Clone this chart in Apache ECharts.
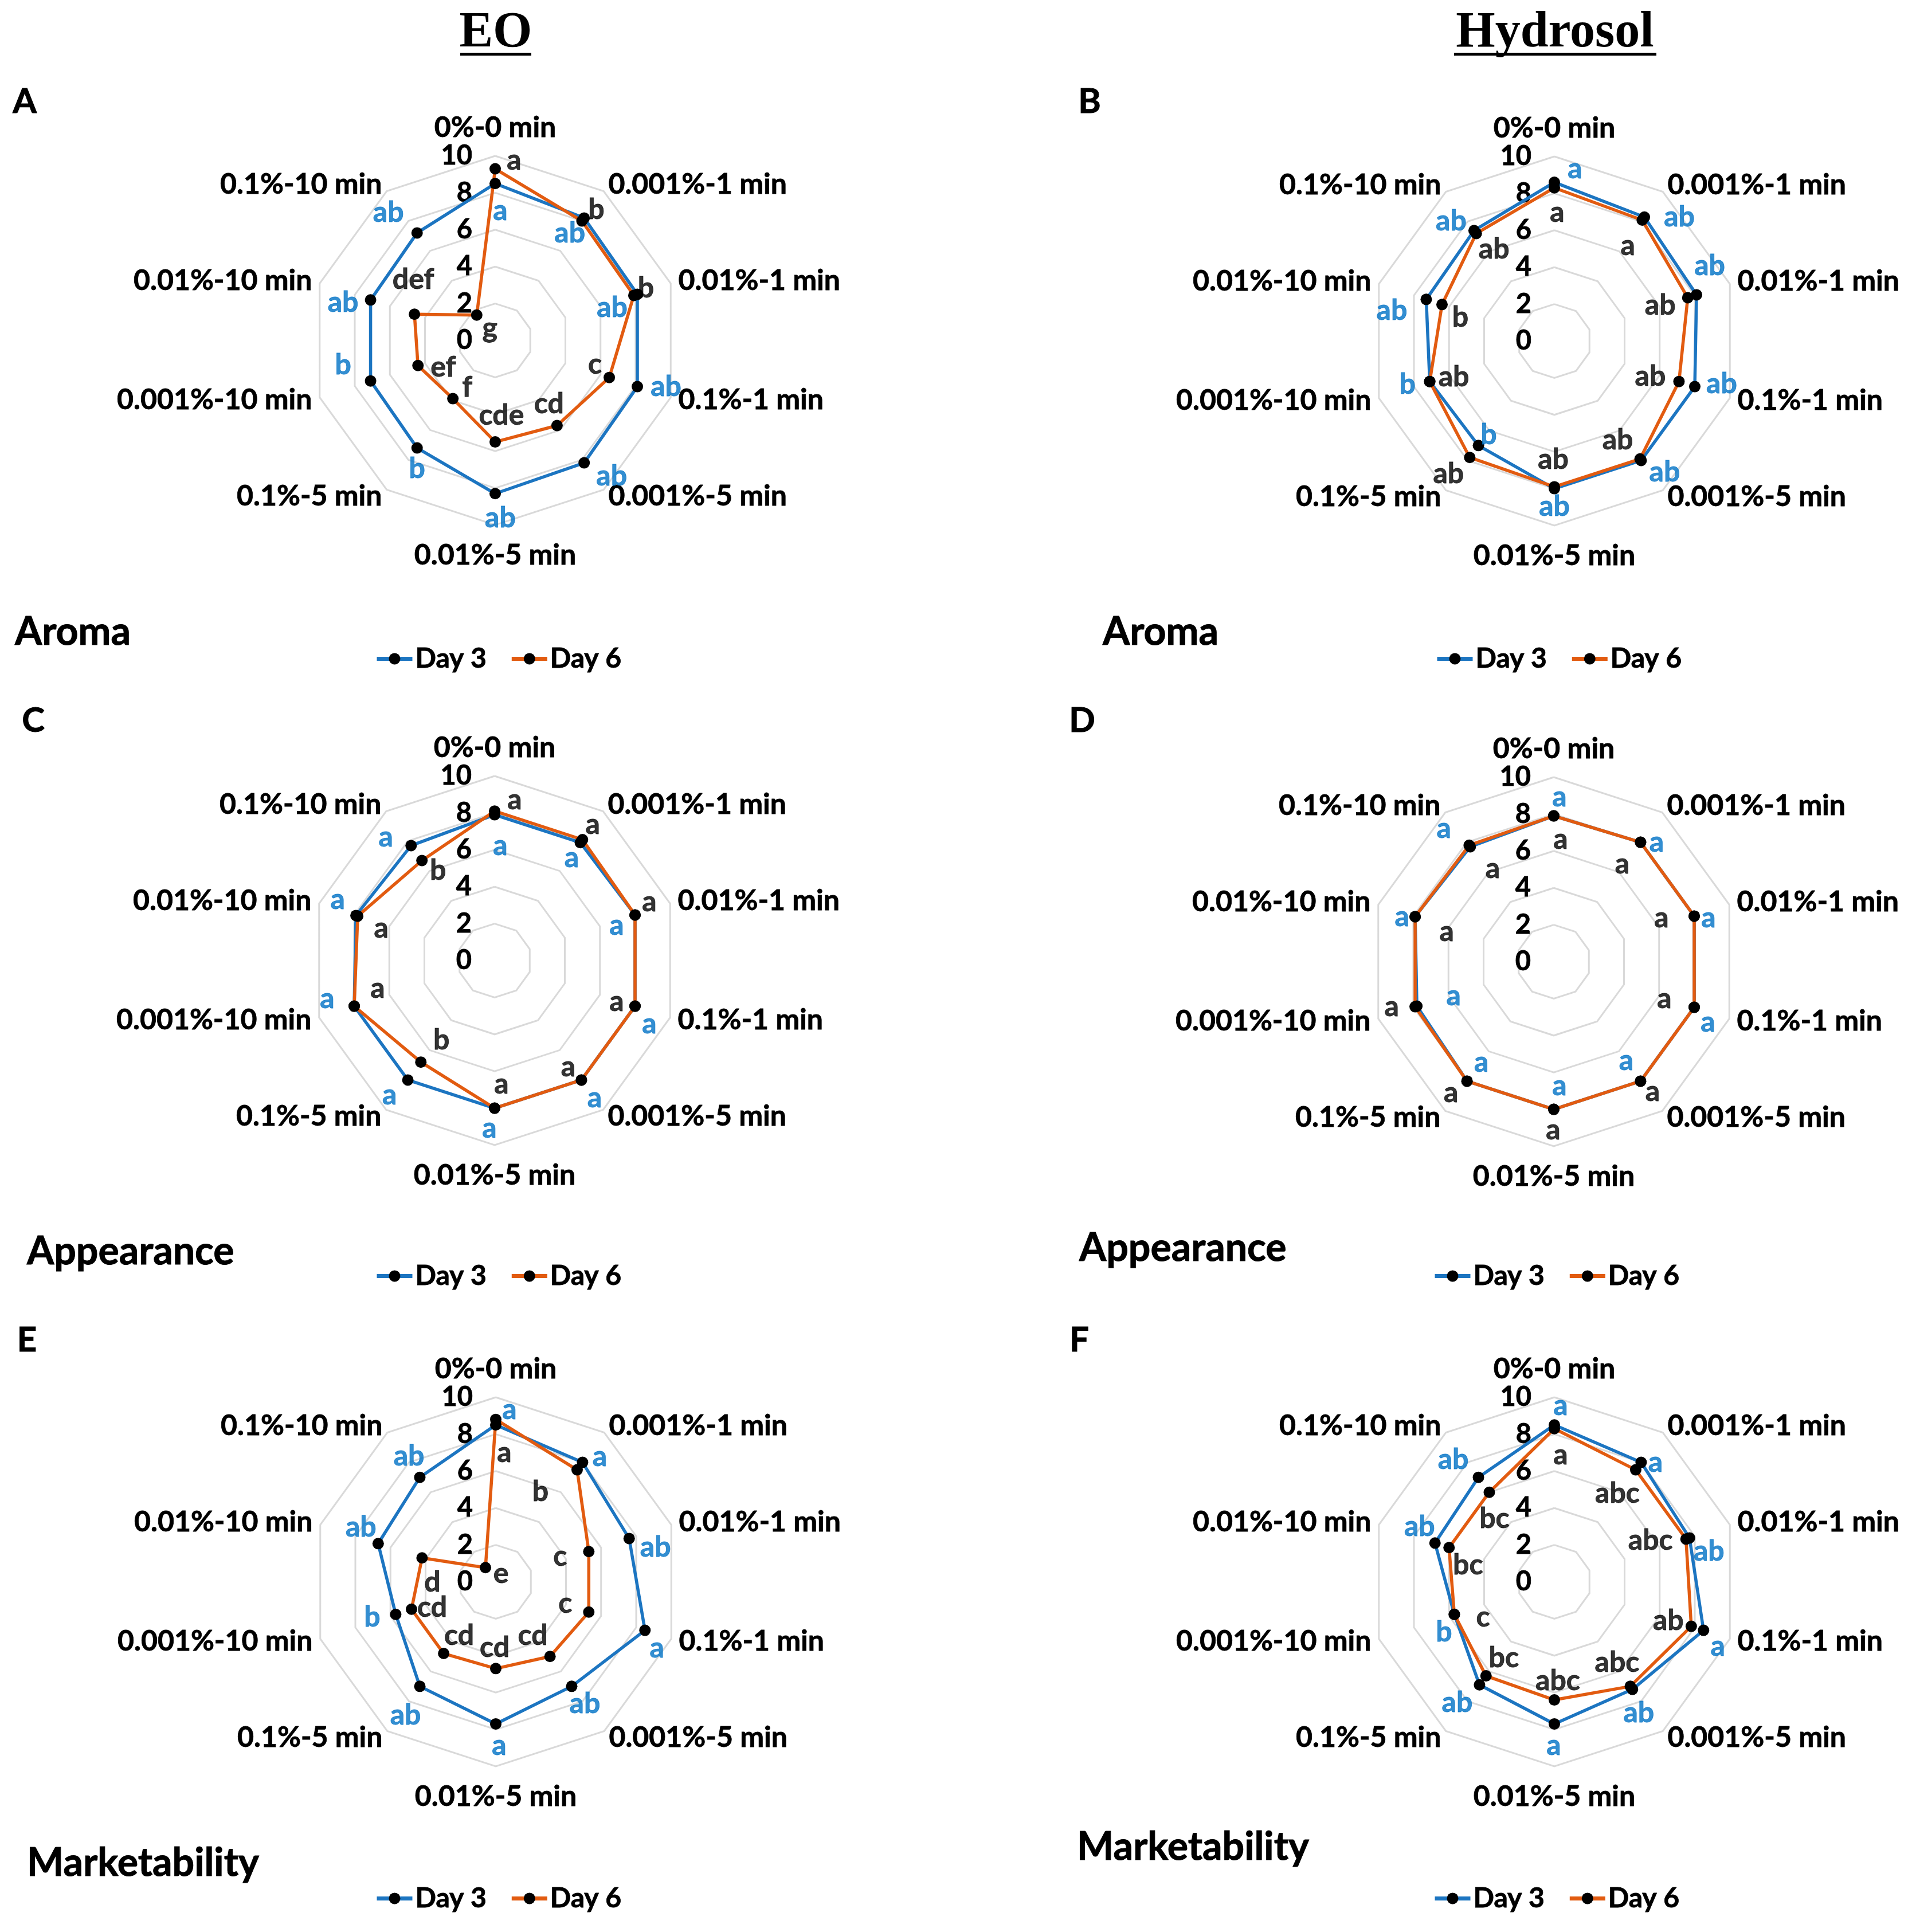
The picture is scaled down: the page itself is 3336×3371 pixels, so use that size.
<!DOCTYPE html>
<html><head><meta charset="utf-8">
<script src="https://cdn.jsdelivr.net/npm/echarts@6/dist/echarts.min.js"></script>
<style>html,body{margin:0;padding:0;background:#fff}#c{width:3336px;height:3371px}</style>
</head><body><div id="c"></div><script>
// ---------------- data ----------------
const categories = ['0%-0 min','0.001%-1 min','0.01%-1 min','0.1%-1 min','0.001%-5 min','0.01%-5 min','0.1%-5 min','0.001%-10 min','0.01%-10 min','0.1%-10 min'];
const seriesNames = ['Day 3','Day 6'];
const columnTitles = ['EO','Hydrosol'];
const panelLetters = ['A','B','C','D','E','F'];
const attributeNames = ['Aroma','Aroma','Appearance','Appearance','Marketability','Marketability'];

const aromaEO_day3  = [8.5, 8.2, 8.1, 8.1, 8.2, 8.3, 7.2, 7.1, 7.1, 7.2];
const aromaEO_day6  = [9.3, 8.0, 7.9, 6.5, 5.7, 5.5, 3.9, 4.4, 4.6, 1.7];
const aromaHyd_day3 = [8.6, 8.3, 8.1, 8.0, 8.0, 8.0, 7.0, 7.1, 7.3, 7.4];
const aromaHyd_day6 = [8.3, 8.1, 7.6, 7.1, 7.9, 7.9, 7.8, 7.1, 6.4, 7.2];
const appEO_day3    = [7.9, 7.9, 8.0, 8.0, 8.0, 8.0, 8.0, 8.0, 7.9, 7.7];
const appEO_day6    = [8.1, 8.1, 8.0, 8.0, 8.0, 8.0, 6.8, 8.0, 7.8, 6.7];
const appHyd_day3   = [7.9, 8.0, 8.0, 8.0, 8.0, 8.0, 8.0, 7.8, 7.9, 7.7];
const appHyd_day6   = [7.9, 8.0, 8.0, 8.0, 8.0, 8.0, 8.0, 7.9, 7.9, 7.8];
const mktEO_day3    = [8.5, 8.0, 7.6, 8.5, 7.0, 7.7, 7.0, 5.7, 6.7, 7.0];
const mktEO_day6    = [8.8, 7.5, 5.3, 5.3, 5.0, 4.7, 4.8, 4.8, 4.2, 0.95];
const mktHyd_day3   = [8.5, 8.0, 7.7, 8.5, 7.2, 7.7, 6.9, 5.7, 6.8, 7.0];
const mktHyd_day6   = [8.3, 7.5, 7.5, 7.8, 7.0, 6.4, 6.3, 5.7, 6.0, 6.0];

const aromaEO_day3_letters  = ['a','ab','ab','ab','ab','ab','b','b','ab','ab'];
const aromaEO_day6_letters  = ['a','b','b','c','cd','cde','f','ef','def','g'];
const aromaHyd_day3_letters = ['a','ab','ab','ab','ab','ab','b','b','ab','ab'];
const aromaHyd_day6_letters = ['a','a','ab','ab','ab','ab','ab','ab','b','ab'];
const appEO_day3_letters    = ['a','a','a','a','a','a','a','a','a','a'];
const appEO_day6_letters    = ['a','a','a','a','a','a','b','a','a','b'];
const appHyd_day3_letters   = ['a','a','a','a','a','a','a','a','a','a'];
const appHyd_day6_letters   = ['a','a','a','a','a','a','a','a','a','a'];
const mktEO_day3_letters    = ['a','a','ab','a','ab','a','ab','b','ab','ab'];
const mktEO_day6_letters    = ['a','b','c','c','cd','cd','cd','cd','d','e'];
const mktHyd_day3_letters   = ['a','a','ab','a','ab','a','ab','b','ab','ab'];
const mktHyd_day6_letters   = ['a','abc','abc','ab','abc','abc','bc','c','bc','bc'];

// ---------------- layout / style ----------------
const FONT = 'Lato';
const BLUE = '#1c75c1';
const ORANGE = '#e25b10';
const LETTER_BLUE = '#0072c6';
const R = 322;
const centers = [[864,594],[2712,595],[863,1676],[2711,1678],[865,2760],[2712,2760]];
const legendPos = [[649,1120],[2499,1120],[649,2197],[2495,2197],[649,3283],[2495,3283]];

const off3 = [
  [[9,48],[-25,26],[-44,23],[50,0],[48,23],[9,43],[0,36],[-48,-28],[-48,5],[-50,-36]],
  [[36,-23],[61,0],[23,-51],[47,-5],[41,20],[0,31],[18,-18],[-39,5],[-60,20],[-40,-16]],
  [[10,54],[-15,27],[-32,18],[25,31],[23,31],[-9,35],[-32,26],[-47,-13],[-32,-28],[-44,-15]],
  [[10,-33],[28,0],[25,3],[24,26],[-25,-36],[10,-41],[25,-33],[64,-18],[-23,0],[-46,-32]],
  [[24,-26],[30,-10],[46,15],[21,31],[23,31],[6,38],[-25,51],[-41,5],[-30,-28],[-19,-37]],
  [[11,-33],[25,0],[34,23],[25,28],[11,41],[-1,38],[-39,31],[-18,31],[-27,-28],[-44,-31]]
];
const off6 = [
  [[33,-15],[25,-20],[21,-13],[-25,-23],[-14,-38],[11,-46],[25,-20],[44,3],[-2,-60],[23,23]],
  [[5,43],[-25,45],[-48,13],[-50,-9],[-39,-33],[-2,-48],[-37,29],[42,-8],[32,23],[31,27]],
  [[35,-19],[18,-26],[25,-23],[-32,-8],[-23,-23],[12,-42],[36,-38],[41,-31],[41,21],[28,17]],
  [[12,41],[-32,38],[-57,3],[-52,-15],[21,18],[-1,36],[-28,20],[-41,0],[55,26],[41,41]],
  [[15,58],[-64,38],[-50,9],[-41,-15],[-30,-36],[-2,-36],[27,-31],[36,-3],[18,43],[27,11]],
  [[11,46],[-32,41],[-62,3],[-40,-10],[-23,-41],[6,-33],[31,-31],[50,5],[33,31],[9,46]]
];

const panels = [
  {d3: aromaEO_day3,  d6: aromaEO_day6,  l3: aromaEO_day3_letters,  l6: aromaEO_day6_letters},
  {d3: aromaHyd_day3, d6: aromaHyd_day6, l3: aromaHyd_day3_letters, l6: aromaHyd_day6_letters},
  {d3: appEO_day3,    d6: appEO_day6,    l3: appEO_day3_letters,    l6: appEO_day6_letters},
  {d3: appHyd_day3,   d6: appHyd_day6,   l3: appHyd_day3_letters,   l6: appHyd_day6_letters},
  {d3: mktEO_day3,    d6: mktEO_day6,    l3: mktEO_day3_letters,    l6: mktEO_day6_letters},
  {d3: mktHyd_day3,   d6: mktHyd_day6,   l3: mktHyd_day3_letters,   l6: mktHyd_day6_letters}
];

// ECharts radar runs counter-clockwise; reorder so categories run clockwise like the reference
const order = [0,9,8,7,6,5,4,3,2,1];

const radars = centers.map(c => ({
  center: c, radius: R, startAngle: 90, splitNumber: 5, shape: 'polygon',
  indicator: order.map(k => {
    const ind = {name: categories[k], min: 0, max: 10, nameGap: k === 0 ? 22 : (k === 5 ? 28 : 14)};
    if (k === 0) ind.axisLabel = {show: true};
    return ind;
  }),
  axisName: {color: '#000', fontSize: 50, fontWeight: 'bold', fontFamily: FONT, textBorderColor: '#000', textBorderWidth: 0.8},
  axisLine: {show: false},
  axisTick: {show: false},
  splitLine: {lineStyle: {color: '#d9d9d9', width: 3}},
  splitArea: {show: false},
  axisLabel: {show: false, color: '#000', fontSize: 47, fontWeight: 'bold', fontFamily: FONT, margin: 40,
    textBorderColor: '#000', textBorderWidth: 0.8}
}));

const series = [];
seriesNames.forEach((nm, si) => {
  series.push({
    type: 'line', name: nm, coordinateSystem: 'polar', polarIndex: 0, data: [],
    symbol: 'circle', symbolSize: 20,
    lineStyle: {color: si === 0 ? BLUE : ORANGE, width: 7},
    itemStyle: {color: '#000'}
  });
});

panels.forEach((p, i) => {
  series.push({
    type: 'radar', radarIndex: i, symbol: 'circle', symbolSize: 20, silent: true, z: 3,
    data: [
      {name: 'Day 3', value: order.map(k => p.d3[k]),
        lineStyle: {color: BLUE, width: 5.5}, itemStyle: {color: '#000'}},
      {name: 'Day 6', value: order.map(k => p.d6[k]),
        lineStyle: {color: ORANGE, width: 5.5}, itemStyle: {color: '#000'}}
    ]
  });
  [[p.d3, p.l3, off3[i], LETTER_BLUE], [p.d6, p.l6, off6[i], '#000']].forEach(([vals, letters, offs, col]) => {
    series.push({
      type: 'scatter', coordinateSystem: 'polar', polarIndex: i, silent: true, z: 6,
      symbolSize: 1, itemStyle: {color: 'rgba(0,0,0,0)'},
      label: {show: true, position: 'inside', formatter: '{b}', color: col,
        fontSize: 50, fontWeight: 'bold', fontFamily: FONT, textBorderColor: col, textBorderWidth: 0.8},
      data: letters.map((t, k) => ({name: t, value: [vals[k], k], label: {offset: offs[k]}}))
    });
  });
});

const graphic = [];
const titleX = [865, 2713];
columnTitles.forEach((t, i) => {
  graphic.push({type: 'text', x: titleX[i], y: 58, style: {text: t, align: 'center', verticalAlign: 'middle',
    font: 'bold 88px "Liberation Serif"', fill: '#000'}});
});
graphic.push({type: 'rect', shape: {x: 803, y: 92, width: 124, height: 5}, style: {fill: '#000'}});
graphic.push({type: 'rect', shape: {x: 2537, y: 92, width: 353, height: 5}, style: {fill: '#000'}});
const letterPos = [[43,178],[1901,178],[58,1258],[1888,1258],[47,2339],[1883,2339]];
panelLetters.forEach((t, i) => {
  graphic.push({type: 'text', x: letterPos[i][0], y: letterPos[i][1], style: {text: t, align: 'center', verticalAlign: 'middle',
    font: 'bold 60px ' + FONT, fill: '#000', stroke: '#000', lineWidth: 1}});
});
const attrPos = [[26,1103],[1924,1103],[47,2184],[1883,2178],[47,3251],[1879,3223]];
attributeNames.forEach((t, i) => {
  graphic.push({type: 'text', x: attrPos[i][0], y: attrPos[i][1], style: {text: t, align: 'left', verticalAlign: 'middle',
    font: 'bold 68px ' + FONT, fill: '#000', stroke: '#000', lineWidth: 1}});
});

const option = {
  backgroundColor: '#fff',
  animation: false,
  radar: radars,
  polar: centers.map(c => ({center: c, radius: R})),
  angleAxis: centers.map((c, i) => ({polarIndex: i, type: 'value', min: 0, max: 10, startAngle: 90, clockwise: true,
    show: false, axisLine: {show: false}, splitLine: {show: false}, axisLabel: {show: false}, axisTick: {show: false}})),
  radiusAxis: centers.map((c, i) => ({polarIndex: i, type: 'value', min: 0, max: 10,
    show: false, axisLine: {show: false}, splitLine: {show: false}, axisLabel: {show: false}, axisTick: {show: false}})),
  legend: legendPos.map(p => ({
    data: seriesNames, left: p[0], top: p[1], itemWidth: 62, itemHeight: 25, itemGap: 40,
    lineStyle: {width: 7},
    textStyle: {color: '#000', fontSize: 48, fontWeight: 'bold', fontFamily: FONT, textBorderColor: '#000', textBorderWidth: 0.8}
  })),
  graphic: graphic,
  series: series
};

const chart = echarts.init(document.getElementById('c'), null, {renderer: 'canvas'});
chart.setOption(option);
</script></body></html>
